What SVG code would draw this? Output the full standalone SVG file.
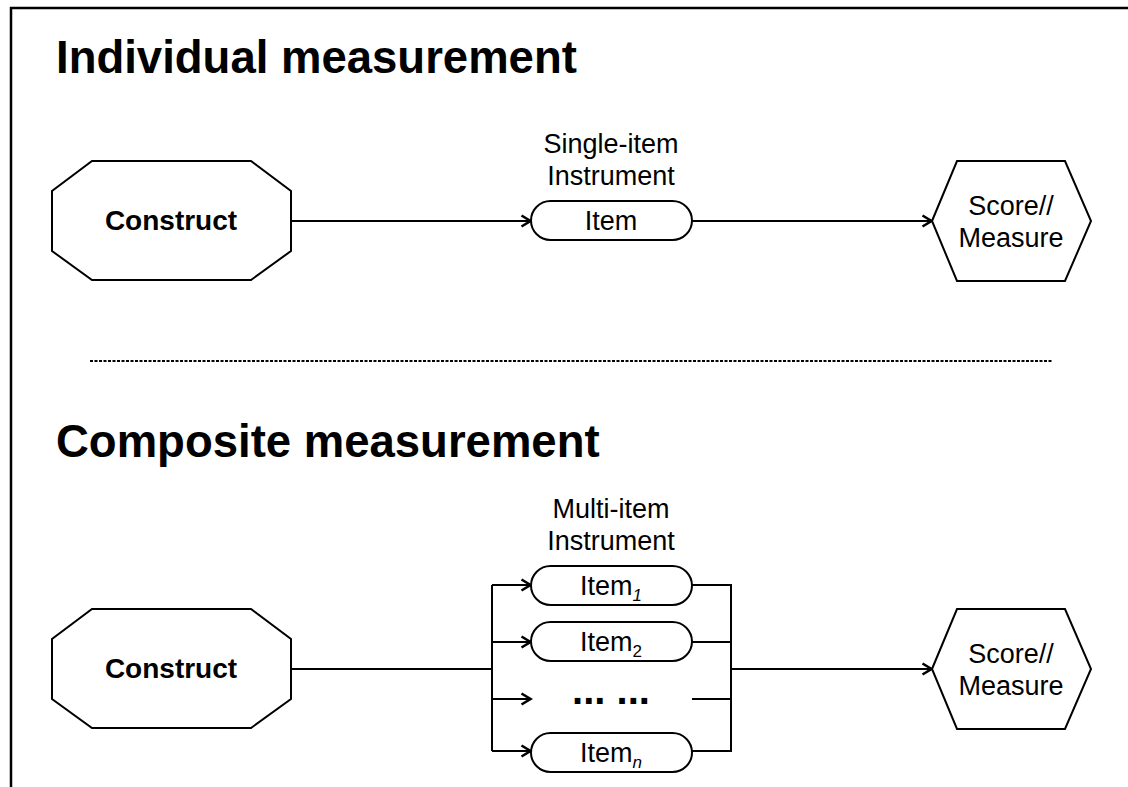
<svg xmlns="http://www.w3.org/2000/svg" width="1128" height="787" viewBox="0 0 1128 787">
  <defs>
    <marker id="arrow" viewBox="0 0 14 14" refX="12.5" refY="7" markerWidth="14" markerHeight="14" markerUnits="userSpaceOnUse" orient="auto">
      <path d="M3,1.5 L12,7 L3,12.5" fill="none" stroke="#000" stroke-width="2.6" stroke-linejoin="miter"/>
    </marker>
  </defs>
  <style>
    .title { font-family: "Liberation Sans", Arial, sans-serif; font-weight: bold; font-size: 45.5px; fill: #000; }
    .bold { font-family: "Liberation Sans", Arial, sans-serif; font-weight: bold; font-size: 28px; fill: #000; }
    .dots { font-family: "Liberation Sans", Arial, sans-serif; font-weight: bold; font-size: 40px; fill: #000; }
    .txt { font-family: "Liberation Sans", Arial, sans-serif; font-size: 27px; fill: #000; }
    .sub { font-size: 17px; }
    .shape { fill: #fff; stroke: #000; stroke-width: 2; }
    .wire { fill: none; stroke: #000; stroke-width: 2; }
  </style>
  <rect width="1128" height="787" fill="#fff"/>
  <!-- outer frame -->
  <path d="M11,800 L11,8 L1140,8" fill="none" stroke="#000" stroke-width="2.5"/>

  <!-- section headings -->
  <text class="title" x="56" y="73">Individual measurement</text>
  <text class="title" x="56" y="457">Composite measurement</text>

  <!-- separator -->
  <line x1="90" y1="361" x2="1052" y2="361" stroke="#000" stroke-width="2" stroke-dasharray="3 1.5"/>

  <!-- connectors -->
  <g id="connectors">
    <line class="wire" x1="291" y1="221" x2="531" y2="221" marker-end="url(#arrow)"/>
    <line class="wire" x1="692" y1="221" x2="932" y2="221" marker-end="url(#arrow)"/>

    <line class="wire" x1="291" y1="669" x2="492" y2="669"/>
    <line class="wire" x1="492" y1="585" x2="492" y2="751"/>
    <line class="wire" x1="492" y1="585" x2="531" y2="585" marker-end="url(#arrow)"/>
    <line class="wire" x1="492" y1="642" x2="531" y2="642" marker-end="url(#arrow)"/>
    <line class="wire" x1="492" y1="699" x2="531" y2="699" marker-end="url(#arrow)"/>
    <line class="wire" x1="492" y1="751" x2="531" y2="751" marker-end="url(#arrow)"/>
    <line class="wire" x1="692" y1="585" x2="731" y2="585"/>
    <line class="wire" x1="692" y1="642" x2="731" y2="642"/>
    <line class="wire" x1="692" y1="699" x2="731" y2="699"/>
    <line class="wire" x1="692" y1="751" x2="731" y2="751"/>
    <line class="wire" x1="731" y1="584" x2="731" y2="752"/>
    <line class="wire" x1="731" y1="669" x2="932" y2="669" marker-end="url(#arrow)"/>
  </g>

  <!-- individual measurement -->
  <g id="construct-1">
    <polygon class="shape" points="92,161 251,161 291,191 291,251 251,280 92,280 52,251 52,191"/>
    <text class="bold" x="171" y="230" text-anchor="middle">Construct</text>
  </g>
  <g id="instrument-1">
    <text class="txt" x="611" y="153" text-anchor="middle">Single-item</text>
    <text class="txt" x="611" y="185" text-anchor="middle">Instrument</text>
  </g>
  <g id="item">
    <rect class="shape" x="531" y="201" width="161" height="39" rx="19.5"/>
    <text class="txt" x="611" y="230" text-anchor="middle">Item</text>
  </g>
  <g id="score-1">
    <polygon class="shape" points="932,221 957,161 1065,161 1091,221 1065,281 957,281"/>
    <text class="txt" x="1011" y="215" text-anchor="middle">Score//</text>
    <text class="txt" x="1011" y="247" text-anchor="middle">Measure</text>
  </g>

  <!-- composite measurement -->
  <g id="construct-2">
    <polygon class="shape" points="92,609 251,609 291,639 291,699 251,728 92,728 52,699 52,639"/>
    <text class="bold" x="171" y="678" text-anchor="middle">Construct</text>
  </g>
  <g id="instrument-2">
    <text class="txt" x="611" y="518" text-anchor="middle">Multi-item</text>
    <text class="txt" x="611" y="550" text-anchor="middle">Instrument</text>
  </g>
  <g id="item-1">
    <rect class="shape" x="531" y="566" width="161" height="39" rx="19.5"/>
    <text class="txt" x="611" y="595" text-anchor="middle">Item<tspan class="sub" font-style="italic" dy="6">1</tspan></text>
  </g>
  <g id="item-2">
    <rect class="shape" x="531" y="622" width="161" height="39" rx="19.5"/>
    <text class="txt" x="611" y="651" text-anchor="middle">Item<tspan class="sub" dy="6">2</tspan></text>
  </g>
  <g id="item-ellipsis">
    <text class="dots" x="611" y="704" text-anchor="middle">... ...</text>
  </g>
  <g id="item-n">
    <rect class="shape" x="531" y="733" width="161" height="39" rx="19.5"/>
    <text class="txt" x="611" y="762" text-anchor="middle">Item<tspan class="sub" font-style="italic" dy="6">n</tspan></text>
  </g>
  <g id="score-2">
    <polygon class="shape" points="932,669 957,609 1065,609 1091,669 1065,729 957,729"/>
    <text class="txt" x="1011" y="663" text-anchor="middle">Score//</text>
    <text class="txt" x="1011" y="695" text-anchor="middle">Measure</text>
  </g>
</svg>
